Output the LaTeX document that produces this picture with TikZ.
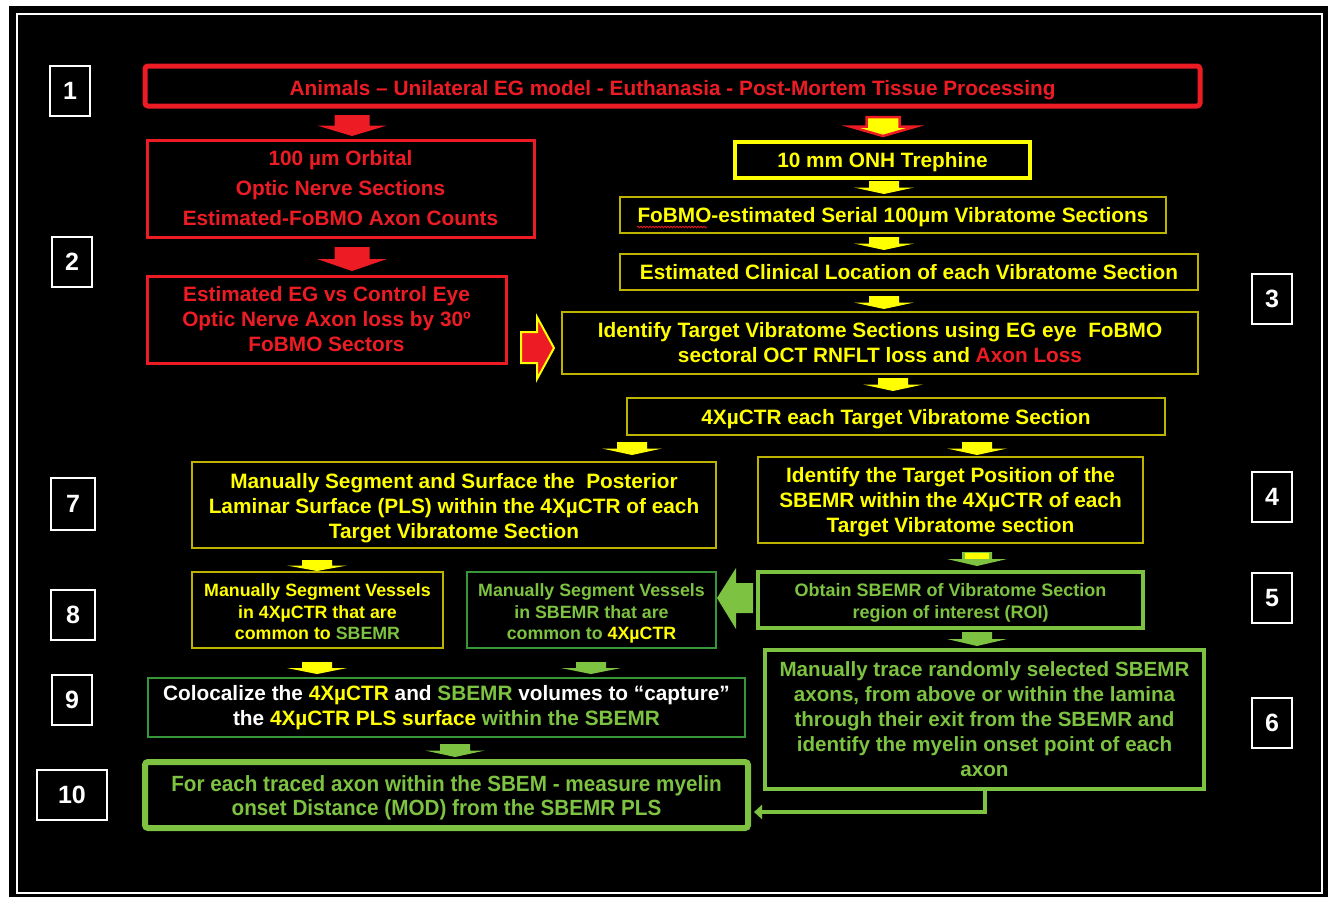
\documentclass[tikz,border=0pt]{standalone}
\usepackage{fontspec}
\setmainfont{Liberation Sans}
\newfontfamily\narrowfont[FakeStretch=0.94]{Liberation Sans}
\usetikzlibrary{arrows.meta,decorations.pathmorphing}
\definecolor{rd}{RGB}{237,28,36}
\definecolor{yl}{RGB}{255,255,0}
\definecolor{yld}{RGB}{190,180,0}
\definecolor{gn}{RGB}{125,195,65}
\definecolor{gnd}{RGB}{55,150,55}
\newcommand\darr[5]{%
  \path[#1] ({#2-#5/2},#3) -- ({#2+#5/2},#3) -- ({#2+#5/2},{(#3+#4)/2}) -- ({#2+#5},{(#3+#4)/2}) -- (#2,#4) -- ({#2-#5},{(#3+#4)/2}) -- ({#2-#5/2},{(#3+#4)/2}) -- cycle;}
\newcommand\lowr[2][2.5pt]{\raisebox{-#1}[\height][\depth]{\begin{tabular}{@{}c@{}}#2\end{tabular}}}
\tikzset{
  numbox/.style={draw=white,line width=1.6pt,fill=black,text=white,minimum width=40pt,minimum height=50pt,inner sep=0pt,font=\bfseries\fontsize{25}{25}\selectfont},
  bx/.style={rectangle,align=center,inner sep=0pt,font=\bfseries\fontsize{20.8}{25}\selectfont},
  redthick/.style={bx,draw=rd,line width=5pt,rounded corners=3pt,text=rd},
  redbox/.style={bx,draw=rd,line width=3pt,text=rd},
  ythick/.style={bx,draw=yl,line width=4pt,text=yl},
  ythin/.style={bx,draw=yld,line width=1.4pt,text=yl},
  gthick/.style={bx,draw=gn,line width=4pt,text=gn},
  gthin/.style={bx,draw=gnd,line width=1.4pt,text=gn},
}
\begin{document}
\begin{tikzpicture}[x=1pt,y=-1pt]
\useasboundingbox (0,0) rectangle (1328,897);
\fill[white] (0,0) rectangle (1328,897);
\fill[black] (9,6) rectangle (1328,897);
\draw[white,line width=2pt] (17,14) rectangle (1322,893);

% number boxes
\node[numbox] (n1) at (70,91) {1};
\node[numbox] (n2) at (72,262) {2};
\node[numbox] (n3) at (1272,299) {3};
\node[numbox] (n4) at (1272,497) {4};
\node[numbox] (n5) at (1272,598) {5};
\node[numbox] (n6) at (1272,723) {6};
\node[numbox,minimum width=44pt,minimum height=52pt] (n7) at (73,504) {7};
\node[numbox,minimum width=44pt] (n8) at (73,615) {8};
\node[numbox] (n9) at (72,700) {9};
\node[numbox,minimum width=70pt] (n10) at (72,795) {10};

% red column
\node[redthick,minimum width=1055pt,minimum height=40pt,text depth=0pt] (r1) at (672.5,86) {\raisebox{-3pt}{Animals -- Unilateral EG model - Euthanasia - Post-Mortem Tissue Processing}};
\node[redbox,minimum width=387pt,minimum height=97pt,font=\bfseries\fontsize{20.8}{30}\selectfont] (r2) at (340.5,188.5) {100 µm Orbital\\Optic Nerve Sections\\Estimated-FoBMO Axon Counts};
\node[redbox,minimum width=359pt,minimum height=87pt] (r3) at (326.5,319.5) {Estimated EG vs Control Eye\\Optic Nerve Axon loss by 30º\\FoBMO Sectors};
\darr{fill=rd}{352}{115}{136}{35}
\darr{fill=rd}{352}{247}{271}{35}

% right column
\node[ythick,minimum width=295pt,minimum height=36pt] (y1) at (882.5,160) {\lowr[2pt]{10 mm ONH Trephine}};
\node[ythin,minimum width=546pt,minimum height=36pt] (y2) at (893,215) {\lowr[2pt]{FoBMO-estimated Serial 100µm Vibratome Sections}};
\node[ythin,minimum width=578pt,minimum height=36pt] (y3) at (909,272) {Estimated Clinical Location of each Vibratome Section};
\node[ythin,minimum width=636pt,minimum height=62pt] (y4) at (880,343) {Identify Target Vibratome Sections using EG eye\ \ FoBMO\\sectoral OCT RNFLT loss and \textcolor{rd}{Axon Loss}};
\node[ythin,minimum width=538pt,minimum height=37pt] (y5) at (896,416.5) {\lowr[3pt]{4XµCTR each Target Vibratome Section}};
\draw[rd,line width=0.8pt,decorate,decoration={snake,amplitude=0.8pt,segment length=3pt}] ([xshift=-256pt,yshift=-12pt]y2.center) -- ([xshift=-186pt,yshift=-12pt]y2.center);

\darr{fill=yl,draw=rd,line width=2.5pt,line join=miter}{883}{117}{136}{33}
\darr{fill=yl}{884}{181}{194}{30}
\darr{fill=yl}{884}{237}{250}{30}
\darr{fill=yl}{884}{296}{309}{30}
\darr{fill=yl}{893}{378}{391}{30}
\darr{fill=yl}{632}{442}{455}{30}
\darr{fill=yl}{977}{442}{455}{30}

% red right arrow with yellow border
\path[fill=rd,draw=yl,line width=2pt] (521,332) -- (537,332) -- (537,317) -- (554,348) -- (537,379) -- (537,363) -- (521,363) -- cycle;

\node[ythin,minimum width=524pt,minimum height=86pt] (b7) at (454,505) {\lowr[3pt]{Manually Segment and Surface the\ \ Posterior\\Laminar Surface (PLS) within the 4XµCTR of each\\Target Vibratome Section}};
\node[ythin,minimum width=385pt,minimum height=86pt] (b4) at (950.5,500) {\lowr[2pt]{Identify the Target Position of the\\SBEMR within the 4XµCTR of each\\Target Vibratome section}};

% green part
\darr{fill=gn}{977}{552}{566}{30}
\path[fill=yl] (965,553) rectangle (989,559);
\node[gthick,minimum width=385pt,minimum height=56pt,font=\bfseries\fontsize{18}{22}\selectfont] (b5) at (950.5,600) {\lowr[3pt]{Obtain SBEMR of Vibratome Section\\region of interest (ROI)}};
\path[fill=gn] (753,583) -- (736,583) -- (736,568) -- (717,598) -- (736,629) -- (736,613) -- (753,613) -- cycle;
\darr{fill=gn}{977}{632}{646}{30}
\node[gthick,minimum width=439pt,minimum height=139pt,font=\bfseries\fontsize{20.6}{25}\selectfont] (b6) at (984.5,719.5) {Manually trace randomly selected SBEMR\\axons, from above or within the lamina\\through their exit from the SBEMR and\\identify the myelin onset point of each\\axon};

\darr{fill=yl}{317}{560}{571}{30}
\node[ythin,minimum width=251pt,minimum height=76pt,font=\bfseries\fontsize{17.8}{21.5}\selectfont] (b8a) at (317.5,610) {\lowr[4pt]{Manually Segment Vessels\\in 4XµCTR that are\\common to \textcolor{gn}{SBEMR}}};
\node[gthin,minimum width=249pt,minimum height=76pt,font=\bfseries\fontsize{17.8}{21.5}\selectfont] (b8b) at (591.5,610) {\lowr[4pt]{Manually Segment Vessels\\in SBEMR that are\\common to \textcolor{yl}{4XµCTR}}};
\darr{fill=yl}{317}{662}{674}{30}
\darr{fill=gn}{591}{662}{674}{30}

\node[gthin,minimum width=597pt,minimum height=59pt,text=white] (b9) at (446.5,707.5) {Colocalize the \textcolor{yl}{4XµCTR} and \textcolor{gn}{SBEMR} volumes to “capture”\\the \textcolor{yl}{4XµCTR PLS surface} \textcolor{gn}{within the SBEMR}};
\darr{fill=gn}{455}{744}{757}{30}
\node[gthick,line width=6pt,rounded corners=3pt,minimum width=603pt,minimum height=66pt,font=\narrowfont\bfseries\fontsize{22}{24}\selectfont] (b10) at (446.5,795) {\lowr[3.5pt]{For each traced axon within the SBEM - measure myelin\\onset Distance (MOD) from the SBEMR PLS}};

\draw[gn,line width=4pt,-{Triangle[length=8pt,width=14pt]}] (b6.south) |- ([xshift=3pt,yshift=-17pt]b10.east);
\end{tikzpicture}
\end{document}
